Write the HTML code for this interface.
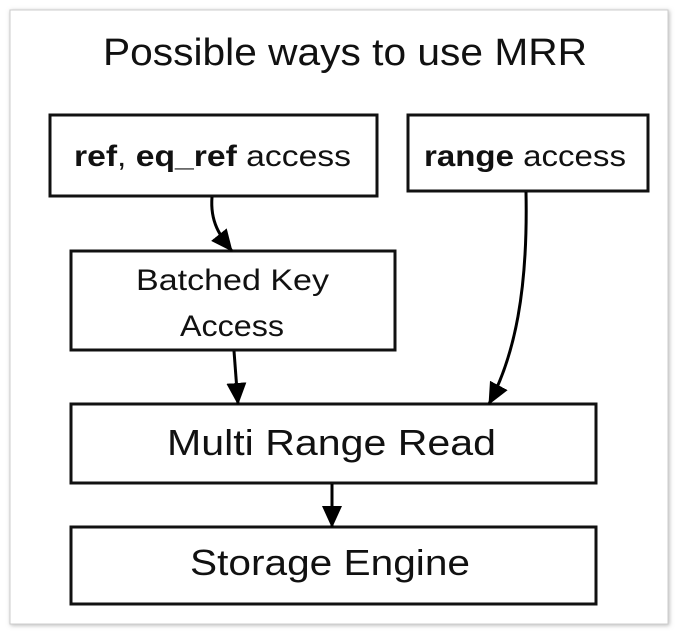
<!DOCTYPE html>
<html><head><style>
body{margin:0;background:#fff;}
svg{display:block;}
text{font-family:"Liberation Sans",sans-serif;fill:#111;}
</style></head><body>
<svg width="678" height="634" viewBox="0 0 678 634">
<defs>
<marker id="a" markerWidth="22" markerHeight="20" refX="21" refY="10" orient="auto" markerUnits="userSpaceOnUse"><path d="M0,0 L22,10 L0,20 z" fill="#000"/></marker>
<filter id="sh"><feDropShadow dx="1" dy="1" stdDeviation="2" flood-color="#888" flood-opacity="0.6"/></filter>
</defs>
<rect x="10" y="10" width="658" height="614" fill="#fff" stroke="#ccc" stroke-width="1" filter="url(#sh)"/>
<text x="103" y="65" font-size="38" textLength="484" lengthAdjust="spacingAndGlyphs">Possible ways to use MRR</text>
<g fill="#fff" stroke="#111" stroke-width="3">
<rect x="50" y="115" width="327" height="81"/>
<rect x="408" y="115" width="240" height="76"/>
<rect x="71" y="251" width="324" height="99"/>
<rect x="71" y="404" width="525" height="79"/>
<rect x="71" y="527" width="525" height="77"/>
</g>
<text x="74" y="166" font-size="30" textLength="277" lengthAdjust="spacingAndGlyphs"><tspan font-weight="bold">ref</tspan>, <tspan font-weight="bold">eq_ref</tspan> access</text>
<text x="424" y="166" font-size="30" textLength="202" lengthAdjust="spacingAndGlyphs"><tspan font-weight="bold">range</tspan> access</text>
<text x="136" y="290" font-size="30" textLength="193" lengthAdjust="spacingAndGlyphs">Batched Key</text>
<text x="180" y="336" font-size="30" textLength="104" lengthAdjust="spacingAndGlyphs">Access</text>
<text x="167" y="455" font-size="36" textLength="329" lengthAdjust="spacingAndGlyphs">Multi Range Read</text>
<text x="190" y="575" font-size="36" textLength="280" lengthAdjust="spacingAndGlyphs">Storage Engine</text>
<g fill="none" stroke="#000" stroke-width="3">
<path d="M212,197 C210,222 220,236 232,251" marker-end="url(#a)"/>
<path d="M234,351 L238,404" marker-end="url(#a)"/>
<path d="M526,192 C528,290 515,355 489,404" marker-end="url(#a)"/>
<path d="M332,484 L332,527" marker-end="url(#a)"/>
</g>
</svg>
</body></html>
